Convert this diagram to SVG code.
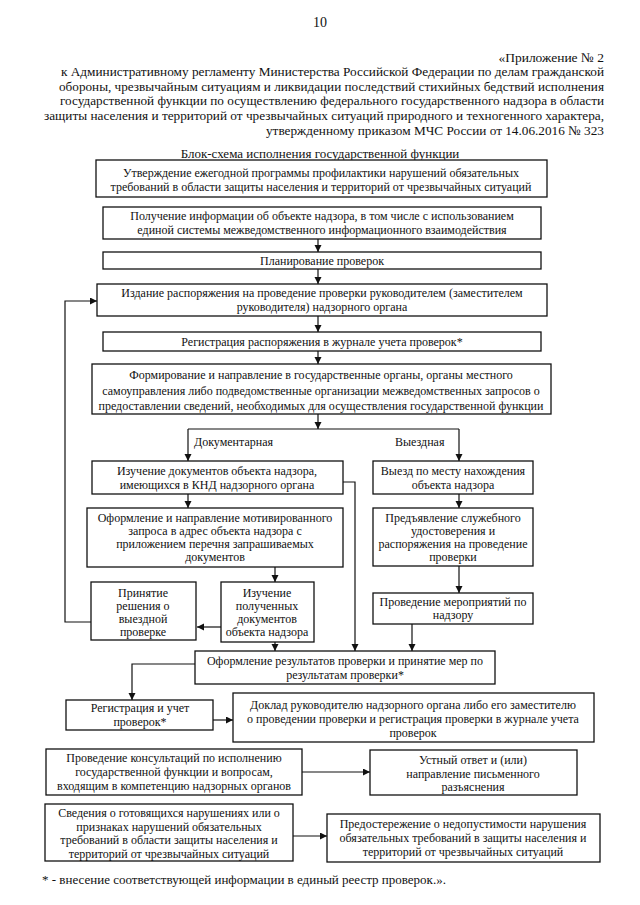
<svg xmlns="http://www.w3.org/2000/svg" width="640" height="905" viewBox="0 0 640 905">
<defs>
<style>
.box{fill:#fff;stroke:#111;stroke-width:1.3}
.t{font-family:"Liberation Serif","Times New Roman",serif;font-size:12px;fill:#111;text-anchor:middle}
.h{font-family:"Liberation Serif","Times New Roman",serif;font-size:13.5px;fill:#111;text-anchor:end}
.l{font-family:"Liberation Serif","Times New Roman",serif;font-size:12px;fill:#111}
.c{fill:none;stroke:#111;stroke-width:1.2}
</style>
<marker id="ar" markerUnits="userSpaceOnUse" markerWidth="8" markerHeight="8" refX="7" refY="3.5" orient="auto">
<path d="M0,0 L7,3.5 L0,7 z" fill="#111"/>
</marker>
</defs>
<rect width="640" height="905" fill="#fff"/>
<g id="header">
<text class="t" x="320" y="27" style="font-size:14px">10</text>
<text class="h" x="604" y="61.5">«Приложение № 2</text>
<text class="h" x="604" y="76" textLength="543" lengthAdjust="spacingAndGlyphs">к Административному регламенту Министерства Российской Федерации по делам гражданской</text>
<text class="h" x="604" y="90.5" textLength="545" lengthAdjust="spacingAndGlyphs">обороны, чрезвычайным ситуациям и ликвидации последствий стихийных бедствий исполнения</text>
<text class="h" x="604" y="105" textLength="544" lengthAdjust="spacingAndGlyphs">государственной функции по осуществлению федерального государственного надзора в области</text>
<text class="h" x="604" y="120" textLength="560" lengthAdjust="spacingAndGlyphs">защиты населения и территорий от чрезвычайных ситуаций природного и техногенного характера,</text>
<text class="h" x="604" y="134.5" textLength="338" lengthAdjust="spacingAndGlyphs">утвержденному приказом МЧС России от 14.06.2016 № 323</text>
<text class="t" x="320" y="157.5" style="font-size:13px">Блок-схема исполнения государственной функции</text>
</g>
<g id="connectors">
<line class="c" x1="318" y1="239" x2="318" y2="252" marker-end="url(#ar)"/>
<line class="c" x1="318" y1="269" x2="318" y2="284" marker-end="url(#ar)"/>
<line class="c" x1="318" y1="316" x2="318" y2="332" marker-end="url(#ar)"/>
<line class="c" x1="318" y1="351" x2="318" y2="364" marker-end="url(#ar)"/>
<line class="c" x1="318" y1="414" x2="318" y2="429" marker-end="url(#ar)"/>
<line class="c" x1="188" y1="429" x2="459" y2="429"/>
<line class="c" x1="188" y1="429" x2="188" y2="461" marker-end="url(#ar)"/>
<line class="c" x1="459" y1="429" x2="459" y2="461" marker-end="url(#ar)"/>
<line class="c" x1="188" y1="494" x2="188" y2="508" marker-end="url(#ar)"/>
<line class="c" x1="459" y1="494" x2="459" y2="508" marker-end="url(#ar)"/>
<line class="c" x1="275" y1="567" x2="275" y2="582" marker-end="url(#ar)"/>
<line class="c" x1="459" y1="566" x2="459" y2="593" marker-end="url(#ar)"/>
<line class="c" x1="221" y1="627" x2="197" y2="627" marker-end="url(#ar)"/>
<polyline class="c" points="91,622 65,622 65,301 97,301" marker-end="url(#ar)"/>
<polyline class="c" points="343,482 355,482 355,651" marker-end="url(#ar)"/>
<line class="c" x1="275" y1="642" x2="275" y2="651" marker-end="url(#ar)"/>
<line class="c" x1="412" y1="624" x2="412" y2="651" marker-end="url(#ar)"/>
<polyline class="c" points="195,664 132,664 132,700" marker-end="url(#ar)"/>
<line class="c" x1="213" y1="720" x2="233" y2="720" marker-end="url(#ar)"/>
<line class="c" x1="302" y1="772" x2="370" y2="772" marker-end="url(#ar)"/>
<line class="c" x1="293" y1="836" x2="327" y2="836" marker-end="url(#ar)"/>
<text class="l" x="194" y="446">Документарная</text>
<text class="l" x="395" y="446">Выездная</text>
</g>
<g id="nA"><rect class="box" x="96" y="160" width="451" height="37"/>
<text class="t" x="321" y="176.5">Утверждение ежегодной программы профилактики нарушений обязательных</text>
<text class="t" x="321" y="191">требований в области защиты населения и территорий от чрезвычайных ситуаций</text></g>
<g id="nB"><rect class="box" x="103" y="207" width="438" height="32"/>
<text class="t" x="322" y="220">Получение информации об объекте надзора, в том числе с использованием</text>
<text class="t" x="322" y="234">единой системы межведомственного информационного взаимодействия</text></g>
<g id="nC"><rect class="box" x="103" y="252" width="438" height="17"/>
<text class="t" x="322" y="265">Планирование проверок</text></g>
<g id="nD"><rect class="box" x="97" y="284" width="450" height="32"/>
<text class="t" x="322" y="297">Издание распоряжения на проведение проверки руководителем (заместителем</text>
<text class="t" x="322" y="311">руководителя) надзорного органа</text></g>
<g id="nE"><rect class="box" x="103" y="332" width="438" height="19"/>
<text class="t" x="322" y="346">Регистрация распоряжения в журнале учета проверок*</text></g>
<g id="nF"><rect class="box" x="92" y="364" width="459" height="50"/>
<text class="t" x="321" y="379">Формирование и направление в государственные органы, органы местного</text>
<text class="t" x="321" y="394.5">самоуправления либо подведомственные организации межведомственных запросов о</text>
<text class="t" x="321" y="409.5">предоставлении сведений, необходимых для осуществления государственной функции</text></g>
<g id="nG1"><rect class="box" x="92" y="461" width="251" height="33"/>
<text class="t" x="217" y="475">Изучение документов объекта надзора,</text>
<text class="t" x="217" y="489">имеющихся в КНД надзорного органа</text></g>
<g id="nG2"><rect class="box" x="87" y="508" width="256" height="59"/>
<text class="t" x="215" y="522">Оформление и направление мотивированного</text>
<text class="t" x="215" y="535">запроса в адрес объекта надзора с</text>
<text class="t" x="215" y="548">приложением перечня запрашиваемых</text>
<text class="t" x="215" y="561">документов</text></g>
<g id="nG3"><rect class="box" x="91" y="582" width="105" height="58"/>
<text class="t" x="143" y="597">Принятие</text>
<text class="t" x="143" y="610">решения о</text>
<text class="t" x="143" y="623">выездной</text>
<text class="t" x="143" y="636">проверке</text></g>
<g id="nG4"><rect class="box" x="221" y="582" width="93" height="60"/>
<text class="t" x="267" y="597">Изучение</text>
<text class="t" x="267" y="610">полученных</text>
<text class="t" x="267" y="623">документов</text>
<text class="t" x="267" y="636">объекта надзора</text></g>
<g id="nH1"><rect class="box" x="373" y="461" width="160" height="33"/>
<text class="t" x="453" y="475">Выезд по месту нахождения</text>
<text class="t" x="453" y="489">объекта надзора</text></g>
<g id="nH2"><rect class="box" x="373" y="508" width="160" height="58"/>
<text class="t" x="453" y="522">Предъявление служебного</text>
<text class="t" x="453" y="535">удостоверения и</text>
<text class="t" x="453" y="548">распоряжения на проведение</text>
<text class="t" x="453" y="561">проверки</text></g>
<g id="nH3"><rect class="box" x="373" y="593" width="160" height="31"/>
<text class="t" x="453" y="606">Проведение мероприятий по</text>
<text class="t" x="453" y="619">надзору</text></g>
<g id="nI"><rect class="box" x="195" y="651" width="300" height="33"/>
<text class="t" x="345" y="665">Оформление результатов проверки и принятие мер по</text>
<text class="t" x="345" y="679">результатам проверки*</text></g>
<g id="nJ1"><rect class="box" x="66" y="700" width="147" height="30"/>
<text class="t" x="140" y="712">Регистрация и учет</text>
<text class="t" x="140" y="725.5">проверок*</text></g>
<g id="nJ2"><rect class="box" x="233" y="693" width="361" height="49"/>
<text class="t" x="413" y="708.5">Доклад руководителю надзорного органа либо его заместителю</text>
<text class="t" x="413" y="722.5">о проведении проверки и регистрация проверки в журнале учета</text>
<text class="t" x="413" y="736.5">проверок</text></g>
<g id="nK1"><rect class="box" x="46" y="749" width="256" height="46"/>
<text class="t" x="174" y="762">Проведение консультаций по исполнению</text>
<text class="t" x="174" y="776">государственной функции и вопросам,</text>
<text class="t" x="174" y="790">входящим в компетенцию надзорных органов</text></g>
<g id="nK2"><rect class="box" x="370" y="750" width="207" height="45"/>
<text class="t" x="473" y="764">Устный ответ и (или)</text>
<text class="t" x="473" y="777.5">направление письменного</text>
<text class="t" x="473" y="791">разъяснения</text></g>
<g id="nL1"><rect class="box" x="45" y="804" width="248" height="57"/>
<text class="t" x="169" y="817">Сведения о готовящихся нарушениях или о</text>
<text class="t" x="169" y="830.5">признаках нарушений обязательных</text>
<text class="t" x="169" y="844">требований в области защиты населения и</text>
<text class="t" x="169" y="857.5">территорий от чрезвычайных ситуаций</text></g>
<g id="nL2"><rect class="box" x="327" y="814" width="273" height="48"/>
<text class="t" x="463" y="828">Предостережение о недопустимости нарушения</text>
<text class="t" x="463" y="842">обязательных требований в защиты населения и</text>
<text class="t" x="463" y="856">территорий от чрезвычайных ситуаций</text></g>
<g id="footnote"><text class="l" x="42" y="884" style="font-size:13px">* - внесение соответствующей информации в единый реестр проверок.».</text></g>
</svg>
